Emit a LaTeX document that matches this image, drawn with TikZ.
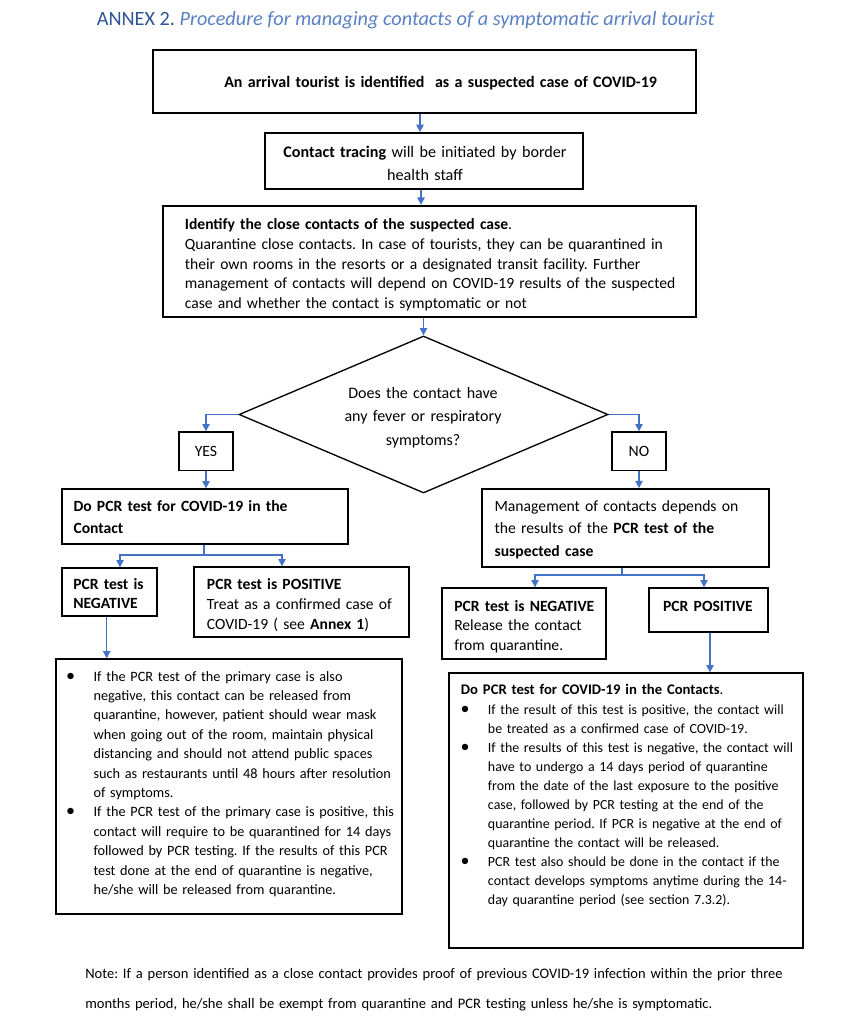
\documentclass[tikz,border=0pt]{standalone}
\usepackage{fontspec}
\setmainfont{Carlito}
\usetikzlibrary{shapes.geometric,arrows.meta,fit}
\definecolor{arrblue}{RGB}{68,114,196}
\definecolor{titleA}{RGB}{47,84,150}
\definecolor{titleB}{RGB}{91,128,196}
\newcommand\setfs[2]{\fontsize{#1}{#2}\selectfont}
\newcommand\bitem{\noindent\llap{\makebox[20.5pt][l]{\fontsize{13.5}{10}\selectfont •}}}
\begin{document}
\frenchspacing
\begin{tikzpicture}[x=0.75pt,y=-0.75pt,
  box/.style={draw=black,line width=1pt,inner sep=0pt},
  thickbox/.style={box,line width=1.8pt},
  txt/.style={inner sep=0pt,anchor=base west,align=left,text width=420pt},
  txtc/.style={inner sep=0pt,anchor=base,align=center,text width=300pt},
  arr/.style={draw=arrblue,line width=1.1pt,-{Triangle[width=5.5pt,length=5.5pt]}},
  ln/.style={draw=arrblue,line width=1.1pt}]
\useasboundingbox (0,0) rectangle (850,1024);
\fill[white] (0,0) rectangle (850,1024);

% title
\node[inner sep=0pt,anchor=base west,font=\setfs{15.2}{18}] (title) at (96.5,26)
  {\textcolor{titleA}{ANNEX 2.} \textcolor{titleB}{\itshape Procedure for managing contacts of a symptomatic arrival tourist}};

% boxes
\node[thickbox,fit={(153,50) (696,113)}] (b1) {};
\node[txt,font=\setfs{12}{15}\bfseries] (t1) at (224,88) {An arrival tourist is identified \ as a suspected case of COVID-19};

\node[box,line width=1.4pt,fit={(265,133) (583,189)}] (b2) {};
\node[txtc,font=\setfs{12.1}{17.5}] (t2) at (425,157) {\textbf{Contact tracing} will be initiated by border\\ health staff};

\node[thickbox,fit={(163,206) (696,317)}] (b3) {};
\node[txt,font=\setfs{11.7}{14.85}] (t3) at (184.6,229.5)
  {\textbf{Identify the close contacts of the suspected case}.\\
   Quarantine close contacts. In case of tourists, they can be quarantined in\\
   their own rooms in the resorts or a designated transit facility. Further\\
   management of contacts will depend on COVID-19 results of the suspected\\
   case and whether the contact is symptomatic or not};

\node[diamond,draw,line width=1pt,inner sep=0pt,minimum width=276.75pt,minimum height=117.75pt] (d) at (423.5,414.5) {};
\node[txtc,font=\setfs{12}{17.8}] (td) at (423,398) {Does the contact have\\ any fever or respiratory\\ symptoms?};

\node[box,fit={(179,432) (233,470.5)}] (yes) {};
\node[txtc,text width=40pt,font=\setfs{11.8}{15}] (tyes) at (206,456.5) {YES};
\node[box,fit={(612,432) (666,470.5)}] (no) {};
\node[txtc,text width=40pt,font=\setfs{11.8}{15}] (tno) at (639,456.5) {NO};

\node[box,fit={(62,489) (348,544)}] (b4) {};
\node[txt,font=\setfs{11.7}{16.7}\bfseries] (t4) at (73.3,511.5) {Do PCR test for COVID-19 in the\\ Contact};

\node[box,fit={(62,568) (157,616)}] (b5) {};
\node[txt,font=\setfs{11.7}{14.4}\bfseries] (t5) at (73,589.5) {PCR test is\\ NEGATIVE};

\node[box,fit={(194,567) (409,637)}] (b6) {};
\node[txt,font=\setfs{11.7}{15}] (t6) at (206.7,589.5) {\textbf{PCR test is POSITIVE}\\ Treat as a confirmed case of\\ COVID-19 ( see \textbf{Annex 1})};

\node[box,fit={(56,659) (402,914)}] (b7) {};
\node[txt,text width=330pt,font=\setfs{10.7}{14.55}] (t7) at (93.3,681)
  {\bitem If the PCR test of the primary case is also\\
   negative, this contact can be released from\\
   quarantine, however, patient should wear mask\\
   when going out of the room, maintain physical\\
   distancing and should not attend public spaces\\
   such as restaurants until 48 hours after resolution\\
   of symptoms.\par
   \bitem If the PCR test of the primary case is positive, this\\
   contact will require to be quarantined for 14 days\\
   followed by PCR testing. If the results of this PCR\\
   test done at the end of quarantine is negative,\\
   he/she will be released from quarantine.};

\node[box,line width=1.3pt,fit={(482,489) (769,567)}] (b8) {};
\node[txt,font=\setfs{11.75}{16.7}] (t8) at (494.3,511.5) {Management of contacts depends on\\ the results of the \textbf{PCR test of the}\\ \textbf{suspected case}};

\node[box,fit={(442,588) (606,659)}] (b9) {};
\node[txt,font=\setfs{11.7}{14.8}] (t9) at (454,611) {\textbf{PCR test is NEGATIVE}\\ Release the contact\\ from quarantine.};

\node[box,fit={(649,588) (768,632)}] (b10) {};
\node[txtc,text width=100pt,font=\setfs{11.7}{15}\bfseries] (t10) at (708,611.5) {PCR POSITIVE};

\node[box,fit={(449,673) (803,948)}] (b11) {};
\node[txt,font=\setfs{11}{15}] (t11h) at (460.7,694) {\textbf{Do PCR test for COVID-19 in the Contacts}.};
\node[txt,text width=330pt,font=\setfs{10.45}{14.3}] (t11) at (487.7,714)
  {\bitem If the result of this test is positive, the contact will\\
   be treated as a confirmed case of COVID-19.\par
   \bitem If the results of this test is negative, the contact will\\
   have to undergo a 14 days period of quarantine\\
   from the date of the last exposure to the positive\\
   case, followed by PCR testing at the end of the\\
   quarantine period. If PCR is negative at the end of\\
   quarantine the contact will be released.\par
   \bitem PCR test also should be done in the contact if the\\
   contact develops symptoms anytime during the 14-\\
   day quarantine period (see section 7.3.2).};

% note
\node[txt,text width=620pt,font=\setfs{10.9}{22.5}] (note) at (85,978)
  {Note: If a person identified as a close contact provides proof of previous COVID-19 infection within the prior three\\
   months period, he/she shall be exempt from quarantine and PCR testing unless he/she is symptomatic.};

% connectors
\coordinate (c1) at (420,0);
\coordinate (c2) at (421,0);
\coordinate (c5) at (106.7,0);
\coordinate (c10) at (710,0);
\coordinate (j1) at (204,555);
\coordinate (j1a) at (120,555);
\coordinate (j1b) at (282,555);
\coordinate (j2) at (622,575);
\coordinate (j2a) at (535,575);
\coordinate (j2b) at (704,575);

\draw[arr] (b1.south -| c1) -- (b2.north -| c1);
\draw[arr] (b2.south -| c2) -- (b3.north -| c2);
\draw[arr] (b3.south -| d.north) -- (d.north);
\draw[arr] (d.west) -| (yes.north);
\draw[arr] (d.east) -| (no.north);
\draw[arr] (yes.south) -- (yes.south |- b4.north);
\draw[arr] (no.south) -- (no.south |- b8.north);
\draw[ln] (b4.south -| j1) -- (j1);
\draw[arr] (j1) -- (j1a) -- (j1a |- b5.north);
\draw[arr] (j1) -- (j1b) -- (j1b |- b6.north);
\draw[ln] (b8.south -| j2) -- (j2);
\draw[arr] (j2) -- (j2a) -- (j2a |- b9.north);
\draw[arr] (j2) -- (j2b) -- (j2b |- b10.north);
\draw[arr] (b5.south -| c5) -- (b7.north -| c5);
\draw[arr] (b10.south -| c10) -- (b11.north -| c10);
\end{tikzpicture}
\end{document}
